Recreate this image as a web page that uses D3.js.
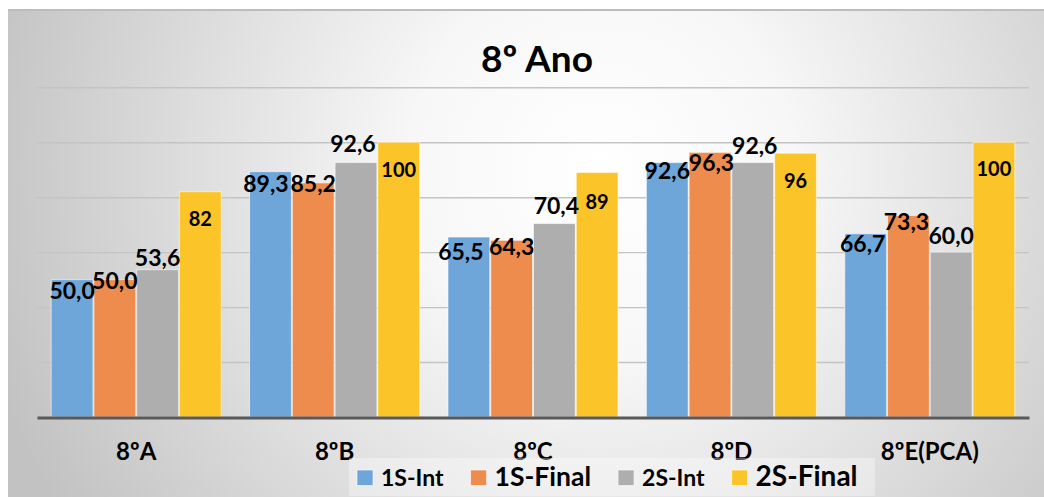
<!DOCTYPE html>
<html>
<head>
<meta charset="utf-8">
<script src="https://cdn.jsdelivr.net/npm/d3@7"></script>
<style>
  html, body { margin: 0; padding: 0; background: #ffffff; }
  svg { display: block; font-family: Lato, "Open Sans", sans-serif; }
</style>
</head>
<body>
<svg id="chart" width="1044" height="497"></svg>
<script>
// ---- data ----
const categories = ["8ºA", "8ºB", "8ºC", "8ºD", "8ºE(PCA)"];
const seriesNames = ["1S-Int", "1S-Final", "2S-Int", "2S-Final"];
const s1Int   = [50.0, 89.3, 65.5, 92.6, 66.7];
const s1Final = [50.0, 85.2, 64.3, 96.3, 73.3];
const s2Int   = [53.6, 92.6, 70.4, 92.6, 60.0];
const s2Final = [82, 100, 89, 96, 100];
const yTicks  = [0, 20, 40, 60, 80, 100, 120];
const title   = "8º Ano";

// ---- styles / layout (kept apart from data) ----
const colors = ["#6EA6DA", "#EE8C4E", "#AEAEAE", "#FBC52A"];
const legendFontSizes = [23, 26.5, 23, 28];
// label centre offset from bar top (px), per series per category
const labelDy = [
  [11, 12, 15, 8, 10],
  [1.5, 0.5, 6.5, 10, 6.5],
  [-12.5, -19, -17.5, -17, -16.6],
  [27, 27.5, 29, 27.5, 27]
];
const labelDx = [
  [0, -4.5, -8, 0, -3],
  [0, 0, 0, 1.5, -2],
  [0, -3, 2, 2, 0],
  [0, 0, 0, 0, 0]
];

const allSeries = [s1Int, s1Final, s2Int, s2Final];
const svg = d3.select("#chart");

// background
const defs = svg.append("defs");
const grad = defs.append("radialGradient")
  .attr("id", "bg").attr("gradientUnits", "userSpaceOnUse")
  .attr("cx", 600).attr("cy", 170).attr("r", 640);
grad.append("stop").attr("offset", "0").attr("stop-color", "#ffffff");
grad.append("stop").attr("offset", "0.3").attr("stop-color", "#f7f7f7");
grad.append("stop").attr("offset", "1").attr("stop-color", "#c2c2c2");
svg.append("rect").attr("x", 8).attr("y", 10).attr("width", 1036).attr("height", 487)
  .attr("fill", "url(#bg)");
svg.append("line").attr("x1", 8).attr("x2", 1044).attr("y1", 10).attr("y2", 10)
  .attr("stroke", "#bdbdbd").attr("stroke-width", 2);

// scales
const x0 = d3.scaleBand().domain(categories).range([37, 1029])
  .paddingInner(0.138).paddingOuter(0.069);
const x1 = d3.scaleBand().domain(seriesNames).range([0, x0.bandwidth()]).padding(0);
const y = d3.scaleLinear().domain([0, 120]).range([417, 87.3]);

// gridlines
const yAxis = d3.axisLeft(y).tickValues(yTicks).tickSize(-(1029 - 37)).tickFormat("");
const gy = svg.append("g").attr("transform", "translate(37,0)").call(yAxis);
gy.select(".domain").remove();
gy.selectAll(".tick line").attr("stroke", "#c4c4c4").attr("stroke-width", 1.4);
gy.selectAll(".tick").filter(d => d === 0).remove();

// bars
const groups = svg.append("g").selectAll("g")
  .data(categories).join("g")
  .attr("transform", d => `translate(${x0(d)},0)`);

groups.each(function(cat, ci) {
  const g = d3.select(this);
  seriesNames.forEach((s, si) => {
    const v = allSeries[si][ci];
    g.append("rect")
      .attr("x", x1(s) + 0.5)
      .attr("y", y(v))
      .attr("width", x1.bandwidth() - 1)
      .attr("height", y(0) - y(v))
      .attr("fill", colors[si])
      .attr("stroke", "#ffffff").attr("stroke-opacity", 0.55).attr("stroke-width", 1);
  });
});

// x axis
const xAxis = d3.axisBottom(x0).tickSize(0).tickPadding(0);
const gx = svg.append("g").attr("transform", "translate(0,417.5)").call(xAxis);
gx.select(".domain").attr("stroke", "#595959").attr("stroke-width", 3);
gx.selectAll(".tick text")
  .attr("y", 42.5).attr("dy", 0)
  .attr("font-family", "Lato, sans-serif").attr("font-weight", "bold")
  .attr("font-size", 24).attr("fill", "#000");

// data labels
const fmt1 = v => d3.format(".1f")(v).replace(".", ",");
const fmt0 = d3.format("d");
groups.each(function(cat, ci) {
  const g = d3.select(this);
  seriesNames.forEach((s, si) => {
    const v = allSeries[si][ci];
    g.append("text")
      .attr("x", x1(s) + x1.bandwidth() / 2 + labelDx[si][ci])
      .attr("y", y(v) + labelDy[si][ci])
      .attr("dy", "0.36em")
      .attr("text-anchor", "middle")
      .attr("font-weight", "bold")
      .attr("font-size", si === 3 ? 20 : 23)
      .attr("fill", "#000")
      .text(si === 3 ? fmt0(v) : fmt1(v));
  });
});

// title
svg.append("text").attr("x", 537).attr("y", 71.5)
  .attr("text-anchor", "middle").attr("font-weight", "bold")
  .attr("font-size", 37).attr("fill", "#000").text(title);

// legend
svg.append("rect").attr("x", 349).attr("y", 458).attr("width", 526).attr("height", 38)
  .attr("fill", "#ffffff").attr("fill-opacity", 0.35);
const legend = svg.append("g");
let lx = 357;
seriesNames.forEach((s, si) => {
  legend.append("rect").attr("x", lx).attr("y", 470).attr("width", 16).attr("height", 15.5)
    .attr("fill", colors[si]).attr("stroke", "#ffffff").attr("stroke-opacity", 0.6);
  const t = legend.append("text").attr("x", lx + 24).attr("y", 485.5)
    .attr("font-weight", "bold").attr("font-size", legendFontSizes[si])
    .attr("fill", "#000").text(s);
  lx = lx + 24 + t.node().getComputedTextLength() + 27;
});
</script>
</body>
</html>
